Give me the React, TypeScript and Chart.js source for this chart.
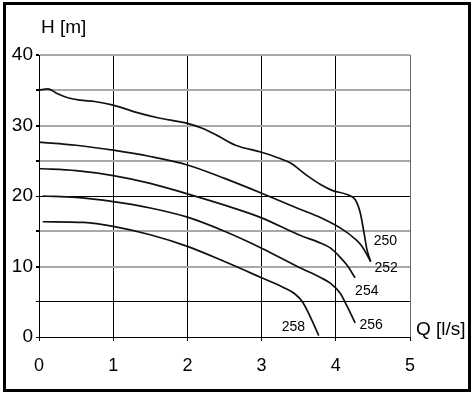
import React, { useEffect, useRef } from 'react';
import { Chart, registerables } from 'chart.js';

Chart.register(...registerables);

// Axis ticks
const flowMin = 0;
const flowMax = 5;
const headMin = 0;
const headMax = 40;
const flowStep = 1;
const headGridStep = 5;
const headLabelStep = 10;
const darkHeadLines = [0, 5, 20];

// Curves (Q [l/s], H [m])
const curveNames = ['250', '252', '254', '256', '258'];

const q250 = [0, 0.12, 0.25, 0.4, 0.55, 0.75, 1.0, 1.3, 1.6, 2.0, 2.2, 2.4, 2.65, 3.0, 3.2, 3.4, 3.6, 3.8, 3.95, 4.15, 4.26, 4.33, 4.38, 4.42, 4.47];
const h250 = [35.0, 35.2, 34.5, 33.9, 33.6, 33.4, 32.9, 31.9, 31.1, 30.3, 29.6, 28.6, 27.2, 26.2, 25.5, 24.6, 23.0, 21.6, 20.8, 20.2, 19.5, 17.6, 14.8, 12.4, 10.7];

const q252 = [0, 0.5, 1.0, 1.5, 2.0, 2.5, 3.0, 3.5, 3.8, 4.1, 4.25, 4.35, 4.47];
const h252 = [27.65, 27.2, 26.5, 25.6, 24.4, 22.5, 20.4, 18.2, 16.9, 15.2, 14.0, 12.9, 10.7];

const q254 = [0, 0.5, 1.0, 1.5, 2.0, 2.5, 3.0, 3.5, 3.8, 3.93, 4.06, 4.15, 4.26];
const h254 = [23.9, 23.6, 22.9, 21.8, 20.3, 18.7, 16.9, 14.5, 13.3, 12.6, 11.3, 10.2, 8.4];

const q256 = [0.05, 0.5, 1.0, 1.5, 2.0, 2.5, 3.0, 3.5, 3.8, 3.93, 4.06, 4.15, 4.26];
const h256 = [20.0, 19.8, 19.2, 18.3, 17.0, 15.0, 12.6, 9.9, 8.4, 7.6, 6.2, 4.4, 2.0];

const q258 = [0.05, 0.6, 1.0, 1.5, 2.0, 2.5, 3.0, 3.3, 3.45, 3.55, 3.65, 3.77];
const h258 = [16.35, 16.25, 15.7, 14.5, 12.85, 10.7, 8.4, 7.0, 6.1, 5.0, 3.0, 0.2];

// Curve label anchors (left edge, vertical middle) in data units
const labelQ = [4.51, 4.52, 4.26, 4.32, 3.27];
const labelH = [13.56, 9.78, 6.5, 1.74, 1.42];

const yTitle = 'H [m]';
const xTitle = 'Q [l/s]';

const FONT = '"Liberation Sans", Arial, Helvetica, sans-serif';

const toPoints = (qs: number[], hs: number[]) => qs.map((q, i) => ({ x: q, y: hs[i] }));

export default function App() {
  const canvasRef = useRef<HTMLCanvasElement | null>(null);

  useEffect(() => {
    const canvas = canvasRef.current;
    if (!canvas) return;

    const series = [
      toPoints(q250, h250),
      toPoints(q252, h252),
      toPoints(q254, h254),
      toPoints(q256, h256),
      toPoints(q258, h258),
    ];

    const textPlugin = {
      id: 'pumpText',
      afterDatasetsDraw(chart: any) {
        const { ctx, chartArea, scales } = chart;
        const xs = scales.x;
        const ys = scales.y;
        ctx.save();
        ctx.fillStyle = '#000';
        ctx.textBaseline = 'middle';
        ctx.textAlign = 'left';
        ctx.font = `14px ${FONT}`;
        curveNames.forEach((name, i) => {
          ctx.fillText(name, xs.getPixelForValue(labelQ[i]), ys.getPixelForValue(labelH[i]));
        });
        ctx.font = `19px ${FONT}`;
        ctx.fillText(yTitle, chartArea.left + 2, chartArea.top - 27);
        ctx.fillText(xTitle, chartArea.right + 6, chartArea.bottom - 7);
        ctx.restore();
      },
    };

    const chart = new Chart(canvas, {
      type: 'line',
      data: {
        datasets: series.map((pts, i) => ({
          label: curveNames[i],
          data: pts,
          borderColor: '#111',
          borderWidth: 1.7,
          pointRadius: 0,
          fill: false,
          cubicInterpolationMode: 'monotone' as const,
        })),
      },
      options: {
        responsive: false,
        animation: false,
        events: [],
        layout: { padding: { left: 0, top: 55, right: 64, bottom: 0 } },
        plugins: {
          legend: { display: false },
          tooltip: { enabled: false },
          title: { display: false },
        },
        scales: {
          x: {
            type: 'linear',
            min: flowMin,
            max: flowMax,
            afterFit: (s: any) => {
              s.height = 58;
            },
            border: { color: '#000', width: 1 },
            grid: {
              color: (c: any) => (c.tick && c.tick.value === flowMax ? '#666' : '#000'),
              lineWidth: 1,
              tickLength: 4,
              tickColor: '#000',
            },
            ticks: {
              stepSize: flowStep,
              color: '#000',
              font: { family: FONT, size: 18 },
              padding: 14,
              autoSkip: false,
              maxRotation: 0,
            },
          },
          y: {
            type: 'linear',
            min: headMin,
            max: headMax,
            afterFit: (s: any) => {
              s.width = 39;
            },
            border: { color: '#000', width: 1 },
            grid: {
              color: (c: any) => (c.tick && darkHeadLines.includes(c.tick.value) ? '#000' : '#a8a8a8'),
              lineWidth: (c: any) => (c.tick && darkHeadLines.includes(c.tick.value) ? 1 : 2),
              tickLength: 3,
              tickColor: '#000',
            },
            ticks: {
              stepSize: headGridStep,
              color: '#000',
              font: { family: FONT, size: 19 },
              padding: 3,
              autoSkip: false,
              callback: (v: any) => (Number(v) % headLabelStep === 0 ? String(v) : ''),
            },
          },
        },
      },
      plugins: [textPlugin],
    });

    return () => {
      chart.destroy();
    };
  }, []);

  return (
    <div style={{ position: 'fixed', left: 0, top: 0, width: 474, height: 395, background: '#fff' }}>
      <canvas
        ref={canvasRef}
        width={474}
        height={395}
        style={{ position: 'absolute', left: 0, top: 0, width: 474, height: 395, display: 'block' }}
      />
      <div
        style={{
          position: 'absolute',
          left: 3,
          top: 2,
          width: 468,
          height: 390,
          border: '3px solid #000',
          boxSizing: 'border-box',
          pointerEvents: 'none',
        }}
      />
    </div>
  );
}
